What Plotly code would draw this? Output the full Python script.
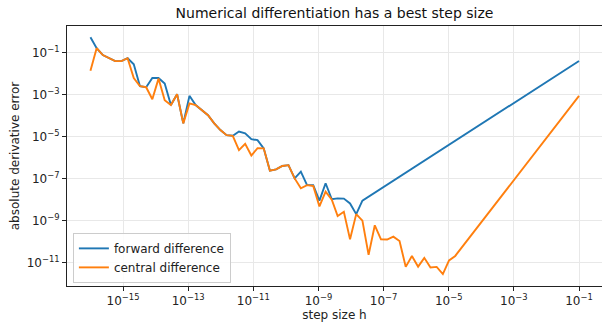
import plotly.graph_objects as go

fwd_log_h = [-16.00, -15.81, -15.62, -15.43, -15.24, -15.05, -14.86, -14.67, -14.48, -14.29,
             -14.10, -13.91, -13.72, -13.53, -13.34, -13.15, -12.96, -12.77, -12.58, -12.39,
             -12.20, -12.01, -11.82, -11.63, -11.44, -11.25, -11.06, -10.87, -10.68, -10.49,
             -10.30, -10.11, -9.92, -9.73, -9.54, -9.35, -9.16, -8.97, -8.78, -8.59,
             -8.41, -8.22, -8.03, -7.84, -7.65, -1.00]
# log10 of absolute error, forward difference
fwd_log_err = [-0.27, -0.79, -1.12, -1.28, -1.41, -1.41, -1.27, -1.56, -2.60, -2.65,
               -2.21, -2.21, -2.47, -3.50, -2.98, -4.37, -3.06, -3.50, -3.74, -3.98,
               -4.37, -4.69, -4.93, -4.96, -4.76, -4.84, -5.12, -5.17, -5.56, -6.62,
               -6.56, -6.40, -6.36, -6.99, -6.67, -7.31, -7.31, -8.05, -7.22, -7.98,
               -7.94, -7.95, -8.18, -8.69, -8.05, -1.40]

ctr_log_h = [-16.00, -15.81, -15.62, -15.43, -15.24, -15.05, -14.86, -14.67, -14.48, -14.29,
             -14.10, -13.91, -13.72, -13.53, -13.34, -13.15, -12.96, -12.77, -12.58, -12.39,
             -12.20, -12.01, -11.82, -11.63, -11.44, -11.25, -11.06, -10.87, -10.68, -10.49,
             -10.30, -10.11, -9.92, -9.73, -9.54, -9.35, -9.16, -8.97, -8.78, -8.59,
             -8.41, -8.22, -8.03, -7.84, -7.65, -7.46, -7.27, -7.08, -6.89, -6.70,
             -6.51, -6.32, -6.13, -5.94, -5.75, -5.56, -5.37, -5.18, -4.99, -4.80,
             -1.00]
# log10 of absolute error, central difference
ctr_log_err = [-1.87, -0.79, -1.12, -1.28, -1.41, -1.41, -1.27, -2.21, -2.60, -2.65,
               -3.22, -2.24, -3.27, -3.50, -2.98, -4.37, -3.42, -3.50, -3.74, -3.98,
               -4.37, -4.69, -4.93, -4.96, -5.64, -5.34, -5.90, -5.55, -5.56, -6.62,
               -6.56, -6.40, -6.36, -6.99, -7.46, -7.31, -7.35, -8.32, -7.62, -8.00,
               -8.78, -8.58, -9.89, -8.69, -9.00, -10.63, -9.22, -9.89, -9.90, -9.76,
               -9.97, -11.20, -10.68, -11.19, -10.77, -11.23, -11.20, -11.54, -10.89, -10.68,
               -3.06]

x_tick_exp = [-15, -13, -11, -9, -7, -5, -3, -1]
y_tick_exp = [-1, -3, -5, -7, -9, -11]

FONT = "DejaVu Sans"

fig = go.Figure()
fig.add_trace(go.Scatter(
    x=[10 ** e for e in fwd_log_h], y=[10 ** e for e in fwd_log_err],
    mode="lines", name="forward difference",
    line=dict(color="#1f77b4", width=1.9)))
fig.add_trace(go.Scatter(
    x=[10 ** e for e in ctr_log_h], y=[10 ** e for e in ctr_log_err],
    mode="lines", name="central difference",
    line=dict(color="#ff7f0e", width=1.9)))

def sup(e):
    return "10<sup>\u2212%d</sup>" % abs(e) if e < 0 else "10<sup>%d</sup>" % e

axis_common = dict(
    showline=True, linecolor="#222", linewidth=1, mirror=True,
    ticks="outside", ticklen=4, tickcolor="#222", tickwidth=1,
    showgrid=True, gridcolor="#e8e8e8", gridwidth=1,
    zeroline=False,
    tickfont=dict(family=FONT, size=12, color="#222"),
)

fig.update_layout(
    width=602, height=325,
    margin=dict(l=67, r=0, t=26, b=39),
    paper_bgcolor="white", plot_bgcolor="white",
    font=dict(family=FONT, color="#222"),
    title=dict(text="Numerical differentiation has a best step size",
               x=0.5, xref="paper", xanchor="center",
               y=1 - 13 / 325, yref="container", yanchor="middle",
               font=dict(family=FONT, size=14, color="#111")),
    xaxis=dict(type="log", range=[-16.72, -0.294],
               tickvals=[10 ** e for e in x_tick_exp],
               ticktext=[sup(e) for e in x_tick_exp],
               title=dict(text="step size h", font=dict(family=FONT, size=12, color="#222"),
                          standoff=3),
               **axis_common),
    yaxis=dict(type="log", range=[-12.11, 0.264],
               tickvals=[10 ** e for e in y_tick_exp],
               ticktext=[sup(e) for e in y_tick_exp],
               title=dict(text="absolute derivative error",
                          font=dict(family=FONT, size=12, color="#222"), standoff=4),
               **axis_common),
    legend=dict(x=0.011, y=0.012, xanchor="left", yanchor="bottom",
                bgcolor="rgba(255,255,255,0.85)", bordercolor="#cccccc", borderwidth=1,
                font=dict(family=FONT, size=12, color="#222"),
                itemwidth=30, tracegroupgap=0),
    showlegend=True,
)

fig.write_html("out.html")
